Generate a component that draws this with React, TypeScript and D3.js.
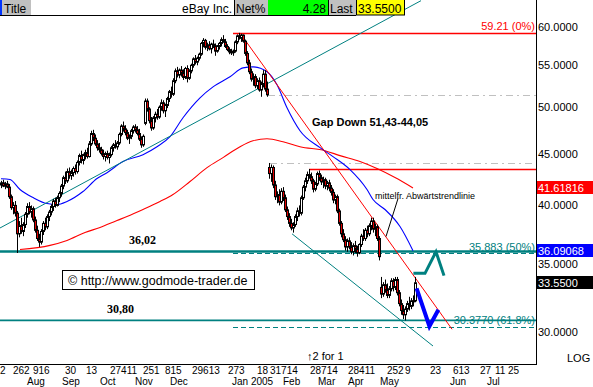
import React from "react";
import * as d3 from "d3";

// ---------- DATA ----------
// daily candles [open, high, low, close], one per trading day (index 0..207)
const candles: number[][] = [
  [41.9,42.3,41.6,42.1],[42.1,42.4,41.7,41.8],[41.8,42.2,41.5,42.0],[42.0,42.3,41.6,41.7],[41.7,42.0,40.6,40.8],
  [40.8,41.0,39.6,39.8],[39.8,40.3,39.2,40.0],[40.0,40.4,39.0,39.3],[39.3,39.5,35.9,37.5],[37.5,38.6,37.2,38.2],
  [38.2,38.9,37.5,37.7],[37.7,38.5,37.3,38.3],[38.3,39.4,38.0,39.2],[39.2,40.2,38.9,39.9],[39.9,40.3,39.2,39.4],
  [39.4,40.0,38.9,39.7],[39.7,39.9,38.5,38.7],[38.7,39.0,37.6,37.8],[37.8,38.2,36.9,37.1],[37.1,37.5,36.4,36.8],
  [36.8,37.9,36.6,37.7],[37.7,38.6,37.4,38.4],[38.4,38.9,37.8,38.1],[38.1,39.2,37.9,39.0],[39.0,39.6,38.6,39.4],
  [39.4,40.1,39.1,39.9],[39.9,40.6,39.5,40.4],[40.4,40.7,39.8,40.0],[40.0,40.9,39.9,40.7],[40.7,41.3,40.3,41.1],
  [41.1,42.0,40.8,41.8],[41.8,42.8,41.5,42.6],[42.6,43.2,42.0,42.3],[42.3,43.5,42.1,43.2],[43.2,43.6,42.5,42.8],
  [42.8,43.4,42.4,43.1],[43.1,43.7,42.7,43.5],[43.5,43.9,42.9,43.2],[43.2,44.3,43.0,44.1],[44.1,45.0,43.8,44.8],
  [44.8,45.3,44.0,44.3],[44.3,45.0,43.9,44.9],[44.9,45.4,44.4,45.1],[45.1,45.6,44.5,44.7],[44.7,46.3,44.6,46.0],
  [46.0,47.4,45.8,47.1],[47.1,47.5,46.3,46.6],[46.6,47.0,45.8,46.0],[46.0,46.4,45.3,45.6],[45.6,46.1,45.1,45.4],
  [45.4,45.7,44.8,45.0],[45.0,45.4,44.4,44.7],[44.7,45.2,44.2,45.0],[45.0,45.3,44.4,44.6],[44.6,45.1,44.0,44.9],
  [44.9,45.8,44.7,45.6],[45.6,46.1,45.2,45.9],[45.9,46.4,45.5,45.7],[45.7,46.3,45.4,46.1],[46.1,47.2,45.9,47.0],
  [47.0,48.1,46.8,47.9],[47.9,48.4,47.3,47.6],[47.6,48.0,46.9,47.2],[47.2,47.5,46.4,46.6],[46.6,47.0,46.0,46.8],
  [46.8,47.6,46.5,47.4],[47.4,48.0,47.1,47.8],[47.8,48.1,47.2,47.5],[47.5,47.9,46.9,47.1],[47.1,47.6,46.3,46.5],
  [46.5,46.8,45.6,45.9],[45.9,47.0,45.7,46.8],[48.2,51.0,48.0,50.7],[50.7,51.0,49.5,49.8],[49.8,50.0,48.2,48.5],
  [48.5,48.9,47.4,47.7],[47.7,49.0,47.5,48.8],[48.8,49.5,48.3,49.2],[49.2,49.8,48.6,48.9],[48.9,50.2,48.7,50.0],
  [50.0,50.9,49.6,50.5],[50.5,50.8,49.3,49.6],[49.6,50.4,48.9,50.2],[50.2,51.2,49.9,51.0],[51.0,52.0,50.6,51.8],
  [51.8,52.4,51.1,51.5],[51.5,53.4,51.3,53.1],[53.1,54.6,52.8,54.3],[54.3,54.8,53.5,53.8],[53.8,54.6,53.4,54.4],
  [54.4,54.9,53.6,54.0],[54.0,54.5,53.2,53.5],[53.5,54.8,53.3,54.6],[54.6,55.0,52.9,53.4],[53.4,54.5,53.2,54.3],
  [54.3,55.2,54.0,55.0],[55.0,56.0,54.7,55.8],[55.8,56.3,55.1,55.4],[55.4,56.1,55.0,55.9],[55.9,56.6,55.6,56.4],
  [56.4,58.0,56.2,57.8],[57.8,58.5,57.3,58.2],[58.2,58.4,57.0,57.3],[57.3,57.9,56.8,57.6],[57.6,58.1,56.9,57.1],
  [57.1,57.9,56.5,57.7],[57.7,58.3,57.2,57.5],[57.5,57.8,56.2,56.8],[56.8,57.6,56.6,57.4],[57.4,58.0,57.0,57.8],
  [57.8,58.6,57.4,58.3],[58.3,58.9,57.9,58.0],[58.0,58.4,57.2,57.4],[57.4,57.7,56.8,57.0],[57.0,57.3,56.4,56.7],
  [56.7,57.1,56.3,56.6],[56.6,57.0,56.2,56.8],[56.8,58.2,56.6,58.0],[58.0,59.0,57.7,58.8],[58.8,59.21,58.3,58.5],
  [58.5,59.1,58.0,58.9],[58.9,59.0,57.9,58.1],[58.1,58.3,56.2,56.5],[56.5,56.8,55.0,55.3],[55.3,55.7,53.9,54.2],
  [54.2,54.6,53.0,53.3],[53.3,54.0,52.5,53.6],[53.6,53.9,52.2,52.5],[52.5,53.4,52.1,53.1],[53.1,53.5,51.8,52.0],
  [52.0,53.0,51.2,52.7],[52.7,54.4,52.3,53.9],[53.9,54.4,51.8,52.1],[52.1,53.0,51.2,51.43],[43.6,44.05,42.5,43.0],
  [43.0,43.9,42.2,43.6],[43.6,43.8,41.6,41.9],[41.9,42.3,40.5,40.8],[40.8,41.3,40.2,41.0],[41.0,41.5,40.0,40.3],
  [40.3,41.6,40.1,41.3],[41.3,41.7,40.4,40.7],[40.7,41.0,39.4,39.6],[39.6,39.9,38.7,39.0],[39.0,39.3,38.1,38.4],
  [38.4,38.8,37.8,38.0],[38.0,38.5,37.6,38.3],[38.3,39.2,38.1,39.0],[39.0,39.8,38.6,39.5],[39.5,40.0,39.0,39.3],
  [39.3,40.9,39.1,40.7],[40.7,41.9,40.5,41.7],[41.7,42.6,41.3,42.3],[42.3,43.2,42.0,42.9],[42.9,43.45,42.5,42.7],
  [42.7,43.1,42.0,42.3],[42.3,42.5,41.2,41.5],[41.5,42.2,41.3,42.0],[42.0,43.2,41.8,43.0],[43.0,43.3,42.3,42.6],
  [42.6,42.9,41.9,42.2],[42.2,42.7,41.6,42.4],[42.4,42.6,41.5,41.8],[41.8,42.3,41.4,42.1],[42.1,42.4,41.3,41.6],
  [41.6,41.9,40.9,41.2],[41.2,41.5,40.2,40.5],[40.5,41.0,40.1,40.8],[40.8,41.0,39.3,39.5],[39.5,39.7,38.2,38.4],
  [38.4,38.6,37.2,37.5],[37.5,37.9,36.8,37.0],[37.0,37.3,36.1,36.4],[36.4,37.1,36.0,36.9],[36.9,37.2,36.2,36.4],
  [36.4,36.8,35.8,36.0],[36.0,36.7,35.7,36.5],[36.5,36.9,35.9,36.2],[36.2,36.5,35.6,35.9],[35.9,36.7,35.8,36.6],
  [36.6,37.5,36.4,37.3],[37.3,37.9,36.9,37.1],[37.1,38.0,36.9,37.8],[37.8,38.2,37.2,37.5],[37.5,38.4,37.3,38.2],
  [38.2,38.9,37.8,38.6],[38.6,38.9,37.6,37.9],[37.9,38.4,37.3,38.1],[38.1,38.3,36.9,37.1],[37.1,37.3,35.3,35.6],
  [33.2,34.0,32.4,32.7],[32.7,33.6,32.5,33.4],[33.4,33.8,32.8,33.0],[33.0,33.5,32.4,32.6],[32.6,33.3,32.4,33.1],
  [33.1,33.9,32.9,33.7],[33.7,33.9,32.9,33.2],[33.2,34.0,33.0,33.8],[33.8,34.0,32.6,32.8],[32.8,33.0,31.8,32.0],
  [32.0,32.3,31.2,31.5],[31.5,31.9,30.9,31.2],[31.2,31.8,30.8,31.6],[31.6,32.2,31.4,32.0],[32.0,32.5,31.5,31.8],
  [31.8,32.4,31.6,32.2],[32.2,32.6,31.8,32.17],[32.2,34.0,32.1,33.55],
];

// moving averages: [dayIndex, value]
const blueMA: number[][] = [
  [0,42.5],[4.5,42.42],[9.5,41.47],[16,40.72],[23,40.17],[28,40.08],[33,40.36],[41,41.28],[48,42.52],[53,43.09],
  [61,44.19],[71,44.89],[78,45.71],[84.5,46.76],[91,48.82],[99.5,51.08],[106,52.37],[114.5,53.58],[121,54.68],
  [126,54.8],[133,54.19],[138,52.61],[143,49.94],[149.5,47.4],[159.5,45.61],[166,44.69],[174.5,43.39],[183,41.47],
  [186,40.54],[192,39.63],[199.5,38.13],[206,36.09068],
];
const redMA: number[][] = [
  [9.5,36.19],[24.5,36.53],[33,36.94],[42,37.61],[49.5,38.04],[58,38.65],[63,39.0],[71,39.63],[79.5,40.36],
  [86,41.0],[94.5,42.23],[103,43.59],[111,44.59],[119.5,45.71],[126,46.33],[133,46.54],[141,46.23],[149.5,45.71],
  [162,45.3],[169.5,44.79],[179.5,44.19],[188,43.49],[197,42.61],[206,41.61816],
];

// trend lines [dayIndex, price]
const upTrend: number[][] = [[-0.5,38.0],[210,63.7]];
const lowerChannel: number[][] = [[145.5,37.5],[216,29.06]];
const downTrend: number[][] = [[120,59.0],[225.5,30.19]];
const pointerLine: number[][] = [[198.5,40.63],[192.5,37.27]];
const tealProjection: number[][] = [[206.2,34.28],[212,34.28],[217.5,36.0],[221.5,34.1]];
const blueProjection: number[][] = [[207.8,33.13],[214.2,30.4],[218.7,31.56]];

// horizontal levels
const support1 = 36.02;
const support2 = 30.80;
const gapTop = 51.43;
const gapBottom = 44.05;
const resistance = 43.45;
const fibStart = 116;
const fibLevels = [
  { label: "59.21 (0%)", value: 59.21, color: "#ff0000", dashed: false },
  { label: "35.883 (50%)", value: 35.883, color: "#008080", dashed: true },
  { label: "30.3770 (61.8%)", value: 30.377, color: "#008080", dashed: true },
];

const yTicks = [60, 55, 50, 45, 40, 35, 30];
const lastRedMA = 41.61816;
const lastBlueMA = 36.09068;
const lastClose = 33.55;
const netPct = "4.28";

const dayLabels: [string, number][] = [
  ["2",-0.5],["262",6],["916",16],["30",32],["13",42.5],["27411",54.5],["251",71],["815",82],["29613",95.5],
  ["273",113.5],["18",128],["31714",134.5],["28714",154.5],["28411",173.5],["252",193],["9",202],["23",214.5],
  ["613",226],["27",239.5],["11",247],["25",253.5],
];
const monthLabels: [string, number][] = [
  ["Aug",13],["Sep",30.5],["Oct",49.5],["Nov",67],["Dec",84.5],["Jan 2005",115.5],["Feb",141],["Mar",158.5],
  ["Apr",173.5],["May",189.5],["Jun",224.5],["Jul",243],
];
const splitIndex = 153;

// ---------- CHART ----------
const W = 593, H = 387;
const PR = 536, PB = 364;
const SANS = "'Liberation Sans', Arial, 'DejaVu Sans', sans-serif";
const SERIF = "'Liberation Serif', 'Times New Roman', serif";

export default function App() {
  const x = d3.scaleLinear().domain([-0.5, 267.5]).range([0, PR]);
  const y = d3.scaleLog().domain([30, 60]).range([332, 27]);
  const straight = d3.line<number[]>().x(d => x(d[0])).y(d => y(d[1]));
  const smooth = d3.line<number[]>().x(d => x(d[0])).y(d => y(d[1])).curve(d3.curveMonotoneX);

  const hy = (v: number) => Math.round(y(v)) + 0.5;

  return (
    <div style={{ position: "absolute", left: 0, top: 0 }}>
      <svg width={W} height={H} style={{ display: "block", background: "#fff" }} fontFamily={SANS}>
        <rect x={0} y={0} width={W} height={H} fill="#fff" />
        <defs>
          <clipPath id="plot"><rect x={0} y={0} width={PR} height={PB} /></clipPath>
        </defs>
        <g clipPath="url(#plot)">
          {/* horizontal levels */}
          <line x1={x(133.5)} x2={PR} y1={hy(gapTop)} y2={hy(gapTop)} stroke="#c0c0c0" strokeDasharray="7,4,2,4" />
          <line x1={x(134.5)} x2={PR} y1={hy(gapBottom)} y2={hy(gapBottom)} stroke="#c0c0c0" strokeDasharray="7,4,2,4" />
          <line x1={x(154)} x2={PR} y1={hy(resistance)} y2={hy(resistance)} stroke="#ff0000" strokeWidth={1.3} />
          {fibLevels.map(f => (
            <line key={f.label} x1={x(fibStart)} x2={PR} y1={hy(f.value)} y2={hy(f.value)} stroke={f.color}
              strokeWidth={f.dashed ? 1 : 1.3} strokeDasharray={f.dashed ? "5,3" : undefined} />
          ))}
          <line x1={0} x2={PR} y1={y(support1)} y2={y(support1)} stroke="#008080" strokeWidth={2.5} />
          <line x1={0} x2={PR} y1={y(support2)} y2={y(support2)} stroke="#008080" strokeWidth={1.8} />

          {/* moving averages */}
          <path d={smooth(redMA) || ""} fill="none" stroke="#ff0000" strokeWidth={1.1} />
          <path d={smooth(blueMA) || ""} fill="none" stroke="#0000ff" strokeWidth={1.1} />

          {/* trend lines */}
          <path d={straight(upTrend) || ""} fill="none" stroke="#008080" strokeWidth={1} />
          <path d={straight(lowerChannel) || ""} fill="none" stroke="#008080" strokeWidth={1} />
          <path d={straight(downTrend) || ""} fill="none" stroke="#ff0000" strokeWidth={1} />
          <path d={straight(pointerLine) || ""} fill="none" stroke="#000" strokeWidth={1} />

          {/* candles */}
          {candles.map((c, i) => {
            const cx = Math.round(x(i));
            const [o, h, l, cl] = c;
            const top = y(Math.max(o, cl));
            const bot = y(Math.min(o, cl));
            const up = cl >= o;
            return (
              <g key={i}>
                <line x1={cx + 0.5} x2={cx + 0.5} y1={y(h)} y2={y(l)} stroke="#000" strokeWidth={1} />
                <rect x={cx - 0.5} y={top} width={2} height={Math.max(1, bot - top)}
                  fill={up ? "#fff" : "#e00000"} stroke="#000" strokeWidth={1} />
              </g>
            );
          })}

          {/* projections */}
          <path d={straight(tealProjection) || ""} fill="none" stroke="#008080" strokeWidth={3} strokeLinejoin="miter" />
          <path d={straight(blueProjection) || ""} fill="none" stroke="#0000ff" strokeWidth={4} strokeLinejoin="miter" />
        </g>

        {/* annotations */}
        <text x={312} y={126} fontSize={11} fontWeight="bold" fill="#000">Gap Down 51,43-44,05</text>
        <text x={375} y={199} fontSize={9} fill="#000">mittelfr. Abwärtstrendlinie</text>
        <text x={129} y={244} fontSize={12} fontWeight="bold" fontFamily={SERIF} fill="#000">36,02</text>
        <text x={107} y={313} fontSize={12} fontWeight="bold" fontFamily={SERIF} fill="#000">30,80</text>
        <rect x={62.5} y={270.5} width={192} height={19} fill="#fff" stroke="#000" strokeWidth={1} />
        <text x={68} y={284.5} fontSize={12.5} fill="#000">© http://www.godmode-trader.de</text>
        {fibLevels.map(f => (
          <text key={f.label} x={535} y={y(f.value) - 2.5} fontSize={11} fill={f.color} textAnchor="end">{f.label}</text>
        ))}
        <text x={x(splitIndex)} y={360} fontSize={11} fill="#000">↑2 for 1</text>

        {/* frame */}
        <line x1={PR + 0.5} x2={PR + 0.5} y1={0} y2={PB} stroke="#000" strokeWidth={1} />
        <line x1={0} x2={PR + 1} y1={PB + 0.5} y2={PB + 0.5} stroke="#000" strokeWidth={1} />

        {/* right axis */}
        {yTicks.map(t => (
          <text key={t} x={538} y={y(t) + 4} fontSize={11} fill="#000">{t.toFixed(4)}</text>
        ))}
        {[
          { v: lastRedMA, bg: "#ff0000", t: lastRedMA.toFixed(5) },
          { v: lastBlueMA, bg: "#0000ff", t: lastBlueMA.toFixed(5) },
          { v: lastClose, bg: "#000000", t: lastClose.toFixed(4) },
        ].map(b => (
          <g key={b.t}>
            <rect x={537} y={Math.round(y(b.v)) - 7} width={56} height={13} fill={b.bg} />
            <text x={538} y={Math.round(y(b.v)) + 4} fontSize={11} fill="#fff">{b.t}</text>
          </g>
        ))}
        <text x={567} y={362} fontSize={11} fill="#000">LOG</text>

        {/* bottom axis */}
        {dayLabels.map(([s, i], k) => (
          <text key={k} x={x(i)} y={373.5} fontSize={10} fill="#000">{s}</text>
        ))}
        {monthLabels.map(([s, i], k) => (
          <text key={k} x={x(i)} y={384.5} fontSize={10} fill="#000">{s}</text>
        ))}

        {/* header */}
        <rect x={0} y={0} width={2} height={15} fill="#0033ff" />
        <rect x={2} y={0} width={29} height={15} fill="#c0c0c0" />
        <text x={4} y={12.5} fontSize={12} fill="#000">Title</text>
        <rect x={31} y={0} width={203} height={15} fill="#fff" />
        <text x={232} y={12.5} fontSize={12} fill="#000" textAnchor="end">eBay Inc.</text>
        <rect x={234} y={0} width={1} height={15} fill="#000" />
        <rect x={235} y={0} width={33} height={15} fill="#c0c0c0" />
        <text x={236} y={12.5} fontSize={12} fill="#000">Net%</text>
        <rect x={268} y={0} width={60} height={15} fill="#00ff00" />
        <text x={326} y={12.5} fontSize={12} fill="#000" textAnchor="end">{netPct}</text>
        <rect x={328} y={0} width={1} height={15} fill="#000" />
        <rect x={329} y={0} width={27} height={15} fill="#c0c0c0" />
        <text x={330} y={12.5} fontSize={12} fill="#000">Last</text>
        <rect x={356.5} y={-1} width={48} height={16} fill="#ffff00" stroke="#000" strokeWidth={1} />
        <text x={358} y={12.5} fontSize={12} fill="#000">{lastClose.toFixed(4)}</text>
        <line x1={0} x2={356} y1={15.5} y2={15.5} stroke="#000" strokeWidth={1} />
      </svg>
    </div>
  );
}
